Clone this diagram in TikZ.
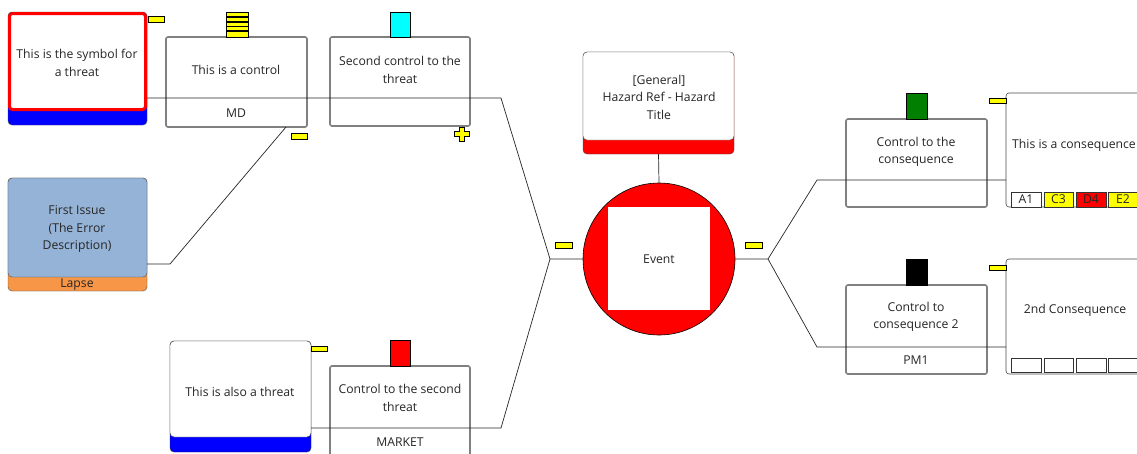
\documentclass[tikz,border=0pt]{standalone}
\usepackage{fontspec}
\setmainfont{Open Sans}
\usetikzlibrary{calc}
\definecolor{ctrlgray}{HTML}{808080}
\definecolor{txt}{HTML}{262626}
\definecolor{issueblue}{HTML}{95B3D7}
\definecolor{lapse}{HTML}{F79646}
\definecolor{tabyellow}{HTML}{FFFF00}
\definecolor{dgreen}{HTML}{007F00}
\definecolor{tblue}{HTML}{0000FF}
\definecolor{tred}{HTML}{FF0000}
\definecolor{tcyan}{HTML}{00FFFF}
\newcommand{\fs}{\fontsize{12.2}{17.5}\selectfont}
\tikzset{
  box/.style={anchor=north west, inner sep=0pt, outer sep=0pt},
  ctrlbox/.style={box, draw=ctrlgray, line width=1.6pt, rounded corners=2pt, fill=white},
  tab/.style={box, draw=black, line width=0.4pt, fill=tabyellow},
  icon/.style={box, draw=black, line width=0.4pt},
  lbl/.style={align=center, font=\fs, text=txt, inner sep=0pt},
  wire/.style={draw=black!85, line width=0.7pt},
  cell/.style={box, draw=black!80, line width=0.6pt, minimum width=30pt, minimum height=15pt, font=\fs, text=txt}
}
\begin{document}
\begin{tikzpicture}[x=1pt,y=-1pt]
\useasboundingbox (0,0) rectangle (1137,453);
\clip (0,0) rectangle (1137,453);
\fill[white] (0,0) rectangle (1137,453);

% threat 1
\node[box, fill=tblue, draw=black!70, line width=0.4pt, rounded corners=4pt, minimum width=139pt, minimum height=113pt] (t1) at (8,12) {};
\node[box, fill=white, draw=tred, line width=3pt, rounded corners=3pt, minimum width=136pt, minimum height=96pt] (t1a) at (9.5,13.5) {};
\node[lbl] (t1t) at (77,63) {This is the symbol for\\a threat};
\node[tab, minimum width=16pt, minimum height=6pt] (t1tab) at (148,16) {};

% control 1
\node[ctrlbox, minimum width=141pt, minimum height=90pt] (c1) at (166,37) {};
\node[lbl] (c1t) at (236,70) {This is a control};
\node[lbl] (c1b) at (236,113) {MD};
\node[icon, fill=tabyellow, minimum width=22pt, minimum height=25pt] (c1i) at (226,12) {};
\foreach \yy in {17,22,26.5,31}{\draw[line width=1.6pt] (226,\yy) -- (248,\yy);}
\node[tab, minimum width=16pt, minimum height=6pt] (c1tab) at (291,133) {};

% control 2
\node[ctrlbox, minimum width=140pt, minimum height=89pt] (c2) at (330,37) {};
\node[lbl] (c2t) at (400,70) {Second control to the\\threat};
\node[icon, fill=tcyan, minimum width=20pt, minimum height=25pt] (c2i) at (390,12) {};
\filldraw[fill=tabyellow, draw=black, line width=0.4pt]
  (459.5,127) -- (464.5,127) -- (464.5,131.5) -- (469.5,131.5) -- (469.5,136.5) -- (464.5,136.5)
  -- (464.5,141) -- (459.5,141) -- (459.5,136.5) -- (454.5,136.5) -- (454.5,131.5) -- (459.5,131.5) -- cycle;

% first issue
\node[box, fill=lapse, draw=black!70, line width=0.4pt, rounded corners=4pt, minimum width=139pt, minimum height=113pt] (fi) at (8,178) {};
\node[box, fill=issueblue, draw=black!70, line width=0.4pt, rounded corners=4pt, minimum width=139pt, minimum height=99pt] (fia) at (8,178) {};
\node[lbl] (fit) at (77,229) {First Issue\\ (The Error\\Description)};
\node[lbl] (fib) at (77,284.5) {Lapse};

% threat 2
\node[box, fill=tblue, draw=black!80, line width=0.4pt, rounded corners=4pt, minimum width=141pt, minimum height=111pt] (t2) at (170,341) {};
\node[box, fill=white, draw=black!80, line width=0.4pt, rounded corners=4pt, minimum width=141pt, minimum height=96pt] (t2a) at (170,341) {};
\node[lbl] (t2t) at (240,392) {This is also a threat};
\node[tab, minimum width=16pt, minimum height=5pt] (t2tab) at (311,346) {};

% control 3
\node[ctrlbox, minimum width=140pt, minimum height=100pt] (c3) at (330,366) {};
\node[lbl] (c3t) at (400,398) {Control to the second\\threat};
\node[lbl] (c3b) at (400,442) {MARKET};
\node[icon, fill=tred, minimum width=20pt, minimum height=26pt] (c3i) at (390,340) {};

% hazard
\node[box, fill=tred, draw=black!70, line width=0.4pt, rounded corners=4pt, minimum width=151pt, minimum height=102pt] (hz) at (583,52) {};
\node[box, fill=white, draw=black!70, line width=0.4pt, rounded corners=4pt, minimum width=151pt, minimum height=88pt] (hza) at (583,52) {};
\node[lbl] (hzt) at (659,97) {[General]\\Hazard Ref - Hazard\\Title};

% event
\node[circle, draw=black, line width=0.6pt, fill=tred, minimum size=152pt, inner sep=0pt] (ev) at (659,259) {};
\node[box, fill=white, minimum width=102pt, minimum height=103pt] (evs) at (608,207) {};
\node[lbl] (evt) at (659,259) {Event};
\node[tab, minimum width=17pt, minimum height=6pt] (evl) at (555,242) {};
\node[tab, minimum width=17pt, minimum height=6pt] (evr) at (745,242) {};

% control 4
\node[ctrlbox, minimum width=141pt, minimum height=88pt] (c4) at (846,119) {};
\node[lbl] (c4t) at (916,152) {Control to the\\consequence};
\node[icon, fill=dgreen, minimum width=21pt, minimum height=26pt] (c4i) at (906,93) {};

% control 5
\node[ctrlbox, minimum width=141pt, minimum height=89pt] (c5) at (846,285) {};
\node[lbl] (c5t) at (916,317) {Control to\\consequence 2};
\node[lbl] (c5b) at (916,360) {PM1};
\node[icon, fill=black, minimum width=21pt, minimum height=26pt] (c5i) at (906,259) {};

% consequence 1
\node[box, fill=white, draw=black!70, line width=0.6pt, rounded corners=3pt, minimum width=150pt, minimum height=114pt] (q1) at (1006,93) {};
\node[lbl, anchor=west] (q1t) at (1012,145) {This is a consequence};
\node[tab, minimum width=17pt, minimum height=5pt] (q1tab) at (989,98) {};
\node[cell, fill=white] (q1a) at (1011,192) {A1};
\node[cell, fill=tabyellow, minimum width=29pt] (q1b) at (1044,192) {C3};
\node[cell, fill=tred] (q1c) at (1076,192) {D4};
\node[cell, fill=tabyellow] (q1d) at (1108,192) {E2};

% consequence 2
\node[box, fill=white, draw=black!70, line width=0.6pt, rounded corners=3pt, minimum width=150pt, minimum height=115pt] (q2) at (1006,259) {};
\node[lbl] (q2t) at (1075,310) {2nd Consequence};
\node[tab, minimum width=17pt, minimum height=5pt] (q2tab) at (989,265) {};
\node[cell, fill=white, minimum height=14pt] (q2a) at (1011,358) {};
\node[cell, fill=white, minimum height=14pt, minimum width=29pt] (q2b) at (1044,358) {};
\node[cell, fill=white, minimum height=14pt] (q2c) at (1076,358) {};
\node[cell, fill=white, minimum height=14pt] (q2d) at (1108,358) {};

% junction coordinates
\coordinate (k1) at (501,98);
\coordinate (k2) at (501,428);
\coordinate (jl) at (550,259);
\coordinate (jr) at (768,259);
\coordinate (k3) at (817,180);
\coordinate (k4) at (817,347);
\coordinate (k5) at (170,264);

% connectors
\draw[wire] (t1.east |- k1) -- (k1) -- (jl) -- (ev.west);
\draw[wire] (t2.east |- k2) -- (k2) -- (jl);
\draw[wire] (fi.east |- k5) -- (k5) -- ($(c1.south west)+(120,0)$);
\draw[wire] (hz.south) -- (ev.north);
\draw[wire] (ev.east) -- (jr) -- (k3) -- (k3 -| q1.west);
\draw[wire] (jr) -- (k4) -- (k4 -| q2.west);
\end{tikzpicture}
\end{document}
